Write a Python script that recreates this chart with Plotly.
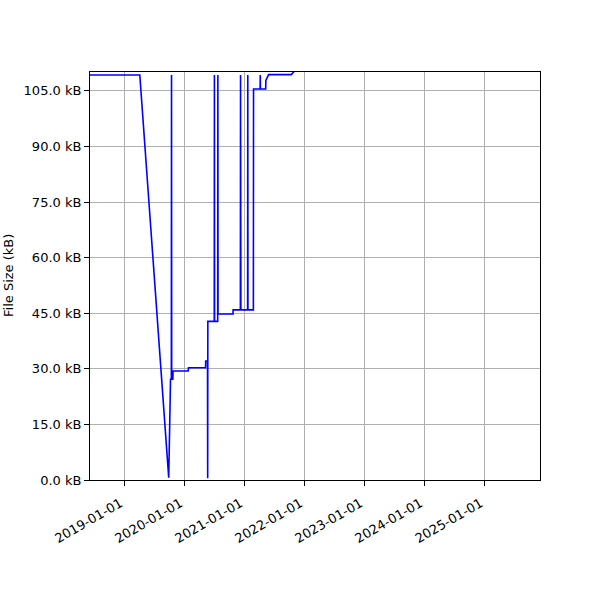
import plotly.graph_objects as go

# commit dates and file sizes (kB)
dates = [
    "2018-06-06", "2019-04-05", "2019-09-28", "2019-10-09", "2019-10-14",
    "2019-10-15", "2019-10-16", "2019-10-23", "2019-10-24", "2020-01-25",
    "2020-01-26", "2020-05-09", "2020-05-10", "2020-05-21", "2020-05-22",
    "2020-05-23", "2020-07-01", "2020-07-02", "2020-07-03", "2020-07-22",
    "2020-07-23", "2020-07-24", "2020-10-23", "2020-10-24", "2020-12-07",
    "2020-12-08", "2020-12-10", "2021-01-20", "2021-01-21", "2021-01-22",
    "2021-02-24", "2021-02-25", "2021-04-06", "2021-04-07", "2021-04-08",
    "2021-05-10", "2021-05-11", "2021-05-28", "2021-10-13", "2021-12-04",
]
sizes_kb = [
    109.3, 109.3, 0.6, 27.2, 27.2,
    109.3, 27.2, 27.2, 29.4, 29.4,
    30.3, 30.3, 32.1, 32.1, 0.5,
    42.8, 42.8, 109.3, 42.8, 42.8,
    109.3, 44.8, 44.8, 45.9, 45.9,
    109.3, 45.9, 45.9, 109.3, 45.9,
    45.9, 105.5, 105.5, 109.3, 105.5,
    105.5, 107.8, 109.4, 109.4, 112.0,
]

y_ticks = [0, 15, 30, 45, 60, 75, 90, 105]
y_labels = [f"{v:.1f} kB" for v in y_ticks]
x_ticks = ["2019-01-01", "2020-01-01", "2021-01-01", "2022-01-01",
           "2023-01-01", "2024-01-01", "2025-01-01"]

fig = go.Figure(go.Scatter(
    x=dates, y=sizes_kb,
    mode="lines",
    line=dict(color="#0000ff", width=1.6),
    showlegend=False,
))

axis_common = dict(
    showline=True, mirror=True, linecolor="black", linewidth=1,
    ticks="outside", ticklen=5, tickwidth=1, tickcolor="black",
    showgrid=True, gridcolor="#b0b0b0", gridwidth=1,
    zeroline=False, automargin=False,
)

fig.update_xaxes(
    type="date",
    range=["2018-06-06", "2025-12-04"],
    tickvals=x_ticks,
    ticktext=x_ticks,
    tickangle=-30,
    ticklabelstandoff=5,
    ticklabelshift=-4,
    **axis_common,
)
fig.update_yaxes(
    range=[0, 110.1],
    tickvals=y_ticks,
    ticktext=y_labels,
    **axis_common,
)

# y label placed by hand so it sits near the page edge like the original
fig.add_annotation(
    text="File Size (kB)", textangle=-90,
    xref="paper", yref="paper", x=(8 - 90) / 450, y=0.5,
    xanchor="center", yanchor="middle", showarrow=False,
    font=dict(size=13),
)

fig.update_layout(
    width=600, height=600,
    margin=dict(l=90, r=60, t=72, b=120),
    paper_bgcolor="white", plot_bgcolor="white",
    font=dict(family="DejaVu Sans", size=13, color="black"),
)

# drop the default body margin so the figure sits at the page corner
fig.write_html("out.html", config={"displayModeBar": False},
               post_script="document.body.style.margin='0';")
